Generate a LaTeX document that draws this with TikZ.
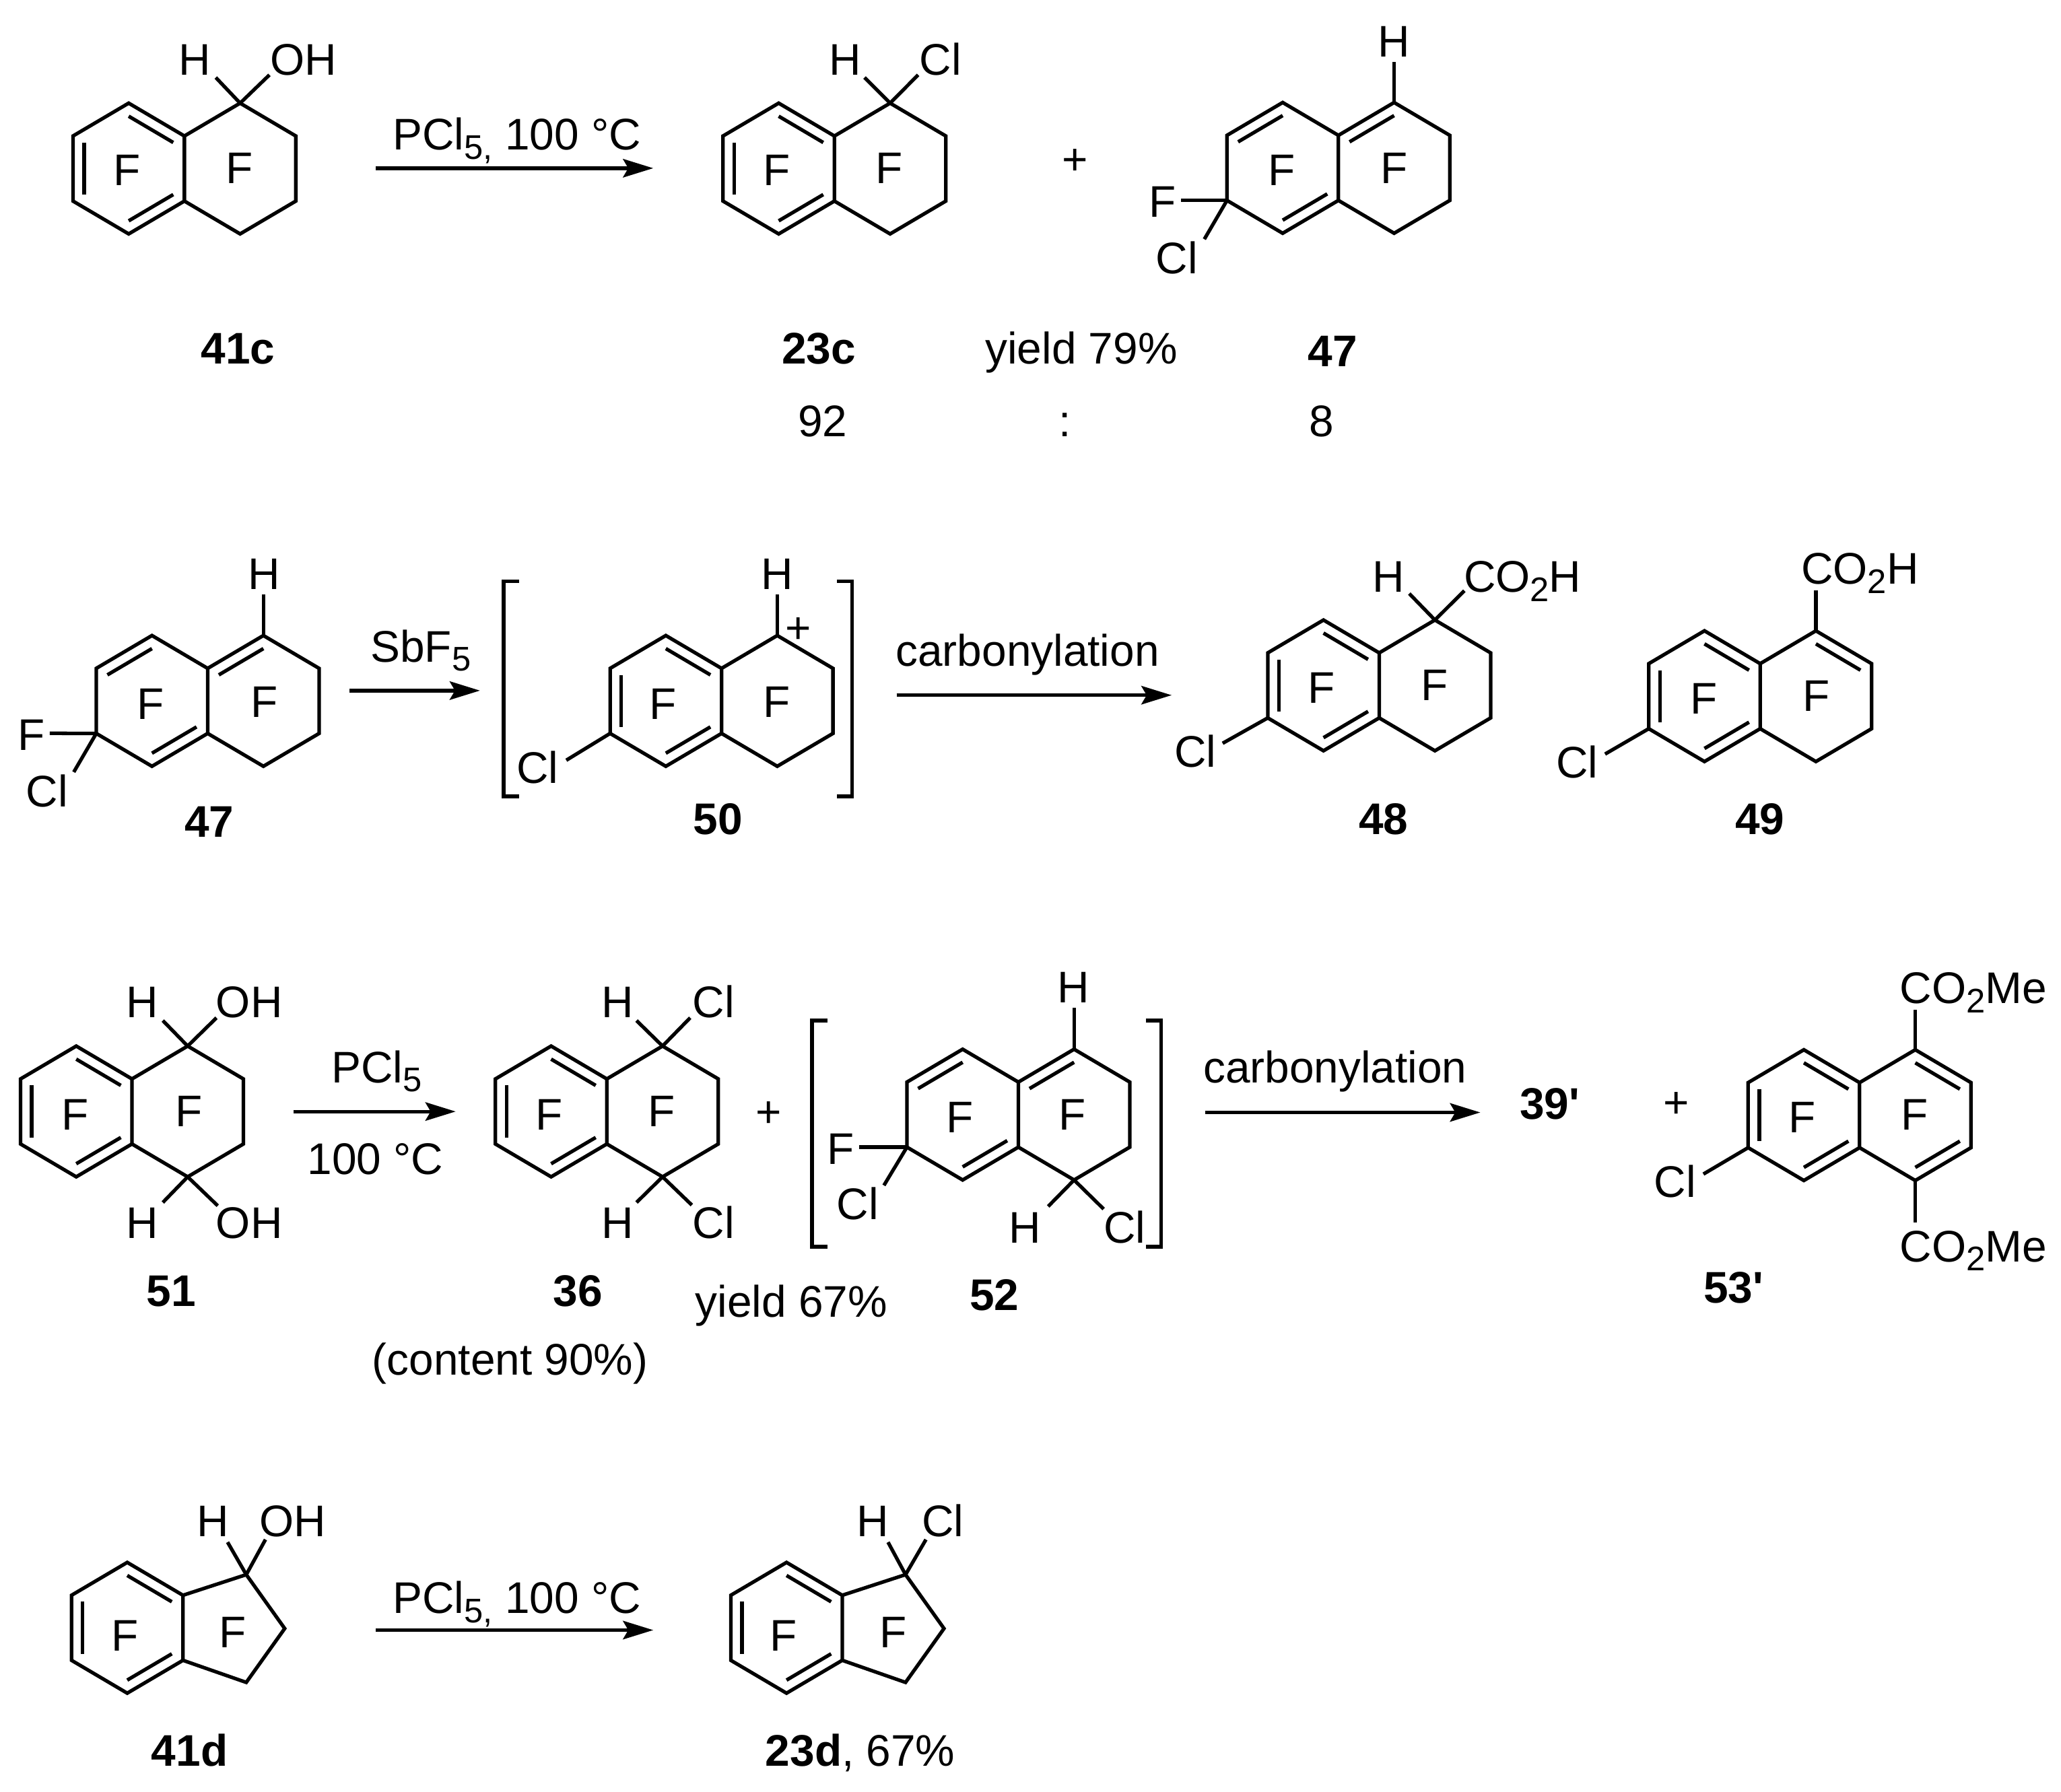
\documentclass[tikz,border=0pt]{standalone}
\usepackage{fontspec}
\usetikzlibrary{calc,arrows.meta}
\newfontfamily\af{Liberation Sans}
\newcommand{\subsc}[1]{\raisebox{-3.5pt}{\fontsize{13}{15}\selectfont #1}}
\tikzset{
  txt/.style={inner sep=0pt,text height=12.1pt,text depth=0pt,font=\af\fontsize{16.85}{20}\selectfont},
  cpd/.style={txt,font=\af\fontsize{16.85}{20}\selectfont\bfseries},
  bondline/.style={line width=1.35pt,line join=miter,line cap=butt,black},
  brk/.style={line width=1.4pt,line join=miter,black},
  rxn/.style={line width=1.35pt,black,-{Stealth[length=11.5pt,width=7pt,inset=2pt]}},
  lz/.style={x=0.4975pt},
  rz/.style={x=0.4975pt,xshift=1.92pt}
}
% ring skeletons: prefix, x of ring fusion, y of top apex
\newcommand{\ncoords}[3]{%
  \coordinate (#1LU) at (#2-85.2,#3+25);
  \coordinate (#1LL) at (#2-85.2,#3+74.5);
  \coordinate (#1A1) at (#2-42.6,#3);
  \coordinate (#1B1) at (#2-42.6,#3+99.5);
  \coordinate (#1JU) at (#2,#3+25);
  \coordinate (#1JL) at (#2,#3+74.5);
  \coordinate (#1A2) at (#2+42.6,#3);
  \coordinate (#1B2) at (#2+42.6,#3+99.5);
  \coordinate (#1RU) at (#2+85.2,#3+25);
  \coordinate (#1RL) at (#2+85.2,#3+74.5);
  \coordinate (#1C1) at (#2-42.6,#3+49.75);
  \coordinate (#1C2) at (#2+42.6,#3+49.75);}
\newcommand{\nap}[3]{\ncoords{#1}{#2}{#3}%
  \draw[bondline] (#1LU)--(#1A1)--(#1JU)--(#1A2)--(#1RU)--(#1RL)--(#1B2)--(#1JL)--(#1B1)--(#1LL)--cycle (#1JU)--(#1JL);}
\newcommand{\ind}[3]{\ncoords{#1}{#2}{#3}%
  \coordinate (#1T) at (#2+48.4,#3+9.3);
  \coordinate (#1M) at (#2+77.8,#3+50.3);
  \coordinate (#1D) at (#2+48.4,#3+91.3);
  \draw[bondline] (#1LU)--(#1A1)--(#1JU)--(#1T)--(#1M)--(#1D)--(#1JL)--(#1B1)--(#1LL)--cycle (#1JU)--(#1JL);}
\newcommand{\dbl}[4]{\draw[bondline] ($(#1#2)!0.2!(#1#4)$)--($(#1#3)!0.2!(#1#4)$);}
% bond from a ring atom to a named free end
\newcommand{\bd}[3]{\coordinate (#2) at (#3); \draw[bondline] (#1)--(#2);}
\newcommand{\rf}[3]{\node[txt] (#1) at (#2) {#3};}
\begin{document}
\begin{tikzpicture}[x=0.5pt,y=-0.5pt]
\useasboundingbox (0,0) rectangle (1568,1363.6);
\fill[white] (0,0) rectangle (1568,1363.6);

% ---------- row 1
\begin{scope}[lz]
\nap{a}{141}{78.5}
\dbl{a}{A1}{JU}{C1}\dbl{a}{LU}{LL}{C1}\dbl{a}{JL}{B1}{C1}
\bd{aA2}{aeH}{165,59}\bd{aA2}{aeO}{206,57}
\rf{aH}{149,45}{H}\rf{aO}{232,45}{OH}
\rf{aF1}{97,129}{F}\rf{aF2}{183,127.5}{F}
\node[cpd] (l41c) at (182,264.6) {41c};

\coordinate (r1s) at (287.4,128);\coordinate (r1e) at (499.5,128);
\draw[rxn] (r1s)--(r1e);
\node[txt,anchor=west] (r1t) at (300,102) {PCl\subsc{5,} 100 °C};

\nap{b}{638}{78.5}
\dbl{b}{A1}{JU}{C1}\dbl{b}{LU}{LL}{C1}\dbl{b}{JL}{B1}{C1}
\bd{bA2}{beH}{661,59}\bd{bA2}{beC}{702,57}
\rf{bH}{646,45}{H}\rf{bC}{719,45}{Cl}
\rf{bF1}{594,129}{F}\rf{bF2}{680,127.5}{F}
\node[cpd] (l23c) at (626,264.6) {23c};
\rf{n92}{629,320}{92}
\end{scope}

\begin{scope}[rz]
\rf{plusa}{818,120.6}{+}
\rf{y79}{823,265}{yield 79\%}
\rf{colon}{810.5,320}{:}
\nap{c}{1019.5}{78}
\dbl{c}{LU}{A1}{C1}\dbl{c}{JL}{B1}{C1}\dbl{c}{JU}{A2}{C2}
\bd{cA2}{ceH}{1062.1,47}
\bd{cLL}{ceF}{899,152.5}\bd{cLL}{ceC}{917,182}
\rf{cH}{1062,31}{H}\rf{cFs}{885,153}{F}\rf{cC}{896,196}{Cl}
\rf{cF1}{976,129}{F}\rf{cF2}{1062,127.5}{F}
\node[cpd] (l47a) at (1015,267) {47};
\rf{n8}{1006.7,320}{8}
\end{scope}

% ---------- row 2
\begin{scope}[lz]
\nap{d}{158.8}{483.6}
\dbl{d}{LU}{A1}{C1}\dbl{d}{JL}{B1}{C1}\dbl{d}{JU}{A2}{C2}
\bd{dA2}{deH}{201.4,452.5}
\bd{dLL}{deF}{38,558}\bd{dLL}{deC}{56.4,587.5}
\rf{dH}{201.8,436.3}{H}\rf{dFs}{24,559}{F}\rf{dC}{36,602}{Cl}
\rf{dF1}{115,535.3}{F}\rf{dF2}{202,533.5}{F}
\node[cpd] (l47b) at (160,625) {47};

\coordinate (r2s) at (267.4,525.5);\coordinate (r2e) at (367,525.5);
\draw[rxn] (r2s)--(r2e);
\node[txt,anchor=west] (r2t) at (283,491.5) {SbF\subsc{5}};

\draw[brk] (397,442.3)--(385,442.3)--(385,606)--(397,606);
\draw[brk] (640,442.3)--(651.6,442.3)--(651.6,606)--(640,606);
\nap{e}{551.7}{483.6}
\dbl{e}{A1}{JU}{C1}\dbl{e}{LU}{LL}{C1}\dbl{e}{JL}{B1}{C1}
\bd{eA2}{eeH}{594.3,452.5}\bd{eLL}{eeC}{433,578.5}
\rf{eH}{594,436.5}{H}\rf{ePl}{610.6,477.4}{+}\rf{eC}{411,584}{Cl}
\rf{eF1}{507,535.3}{F}\rf{eF2}{594,533.5}{F}
\node[cpd] (l50) at (549,623) {50};

\coordinate (r3s) at (685.5,529);
\rf{r3t}{785.7,495}{carbonylation}
\end{scope}

\begin{scope}[rz]
\coordinate (r3e) at (892,529);
\draw[rxn] (r3s)--(r3e);
\nap{f}{1050.7}{471.8}
\dbl{f}{A1}{JU}{C1}\dbl{f}{LU}{LL}{C1}\dbl{f}{JL}{B1}{C1}
\bd{fA2}{feH}{1073.7,451.7}\bd{fA2}{feC}{1115.8,449.5}\bd{fLL}{feL}{931,565.6}
\rf{fH}{1058,438.5}{H}
\node[txt,anchor=west] (fC) at (1115,438.5) {CO\subsc{2}H};
\rf{fL}{910,571.7}{Cl}
\rf{fF1}{1006.7,523}{F}\rf{fF2}{1092.8,521}{F}
\node[cpd] (l48) at (1054,623) {48};

\nap{g}{1342}{480}
\dbl{g}{A1}{JU}{C1}\dbl{g}{LU}{LL}{C1}\dbl{g}{JL}{B1}{C1}\dbl{g}{A2}{RU}{C2}
\bd{gA2}{geC}{1384.6,449}\bd{gLL}{geL}{1223.4,573.8}
\node[txt,anchor=west] (gC) at (1373,432.5) {CO\subsc{2}H};
\rf{gL}{1202,580}{Cl}
\rf{gF1}{1298.7,531}{F}\rf{gF2}{1384.7,529}{F}
\node[cpd] (l49) at (1341.7,623) {49};
\end{scope}

% ---------- row 3
\begin{scope}[lz]
\nap{h}{100.9}{796}
\dbl{h}{A1}{JU}{C1}\dbl{h}{LU}{LL}{C1}\dbl{h}{JL}{B1}{C1}
\bd{hA2}{heH}{124.5,776.6}\bd{hA2}{heO}{165.5,774.5}
\bd{hB2}{heH2}{124.5,915}\bd{hB2}{heO2}{166.5,917.5}
\rf{hH}{109,762}{H}\rf{hO}{190.6,762}{OH}
\rf{hH2}{109,930}{H}\rf{hO2}{190.6,930}{OH}
\rf{hF1}{57.4,847.5}{F}\rf{hF2}{144.5,845}{F}
\node[cpd] (l51) at (131,982) {51};

\coordinate (r4s) at (224.4,845.8);\coordinate (r4e) at (348.4,845.8);
\draw[rxn] (r4s)--(r4e);
\node[txt,anchor=west] (r4t) at (253,811.7) {PCl\subsc{5}};
\rf{r4u}{287,881.7}{100 °C}

\nap{i}{464}{796}
\dbl{i}{A1}{JU}{C1}\dbl{i}{LU}{LL}{C1}\dbl{i}{JL}{B1}{C1}
\bd{iA2}{ieH}{486.7,776.6}\bd{iA2}{ieC}{527.7,774.5}
\bd{iB2}{ieH2}{486.7,915}\bd{iB2}{ieC2}{529,917}
\rf{iH}{472,762}{H}\rf{iC}{545.6,762}{Cl}
\rf{iH2}{472,930}{H}\rf{iC2}{545.6,930}{Cl}
\rf{iF1}{420,847.5}{F}\rf{iF2}{506,845}{F}
\node[cpd] (l36) at (442,982) {36};
\rf{cont}{390,1034}{(content 90\%)}
\rf{y67}{605,990}{yield 67\%}
\rf{plusb}{587.6,845.5}{+}
\end{scope}

\begin{scope}[rz]
\draw[brk] (628.8,776.6)--(617.1,776.6)--(617.1,948.8)--(628.8,948.8);
\draw[brk] (872.4,776.6)--(884,776.6)--(884,948.8)--(872.4,948.8);
\nap{j}{774.8}{798.4}
\dbl{j}{LU}{A1}{C1}\dbl{j}{JL}{B1}{C1}\dbl{j}{JU}{A2}{C2}
\bd{jA2}{jeH}{817.4,767}
\bd{jLL}{jeF}{653,872.9}\bd{jLL}{jeC}{672,902}
\bd{jB2}{jeH2}{797.6,918}\bd{jB2}{jeC2}{840,920}
\rf{jH}{817,751}{H}\rf{jFs}{639.1,874}{F}\rf{jC}{651.8,916}{Cl}
\rf{jH2}{780,934}{H}\rf{jC2}{856,934}{Cl}
\rf{jF1}{730,850}{F}\rf{jF2}{816,847.5}{F}
\node[cpd] (l52) at (756.5,985) {52};

\coordinate (r5s) at (917.5,846.5);\coordinate (r5e) at (1128,846.5);
\draw[rxn] (r5s)--(r5e);
\rf{r5t}{1017,812}{carbonylation}
\node[cpd] (l39) at (1181,839.6) {39'};
\rf{plusc}{1278,838.4}{+}

\nap{k}{1418}{798.8}
\dbl{k}{A1}{JU}{C1}\dbl{k}{LU}{LL}{C1}\dbl{k}{JL}{B1}{C1}\dbl{k}{A2}{RU}{C2}\dbl{k}{RL}{B2}{C2}
\bd{kA2}{keT}{1460.6,768.6}\bd{kB2}{keB}{1460.6,930}\bd{kLL}{keL}{1298.6,893.4}
\node[txt,anchor=west] (kT) at (1448.5,751.6) {CO\subsc{2}Me};
\node[txt,anchor=west] (kB) at (1448.5,948) {CO\subsc{2}Me};
\rf{kL}{1277,899}{Cl}
\rf{kF1}{1374,850}{F}\rf{kF2}{1460,847.5}{F}
\node[cpd] (l53) at (1321.7,979.5) {53'};
\end{scope}

% ---------- row 4
\begin{scope}[lz,yshift=-0.75pt]
\ind{m}{139.9}{1187.4}
\dbl{m}{A1}{JU}{C1}\dbl{m}{LU}{LL}{C1}\dbl{m}{JL}{B1}{C1}
\bd{mT}{meH}{174,1172}\bd{mT}{meO}{203,1170}
\rf{mH}{163,1155.8}{H}\rf{mO}{224,1155.8}{OH}
\rf{mF1}{95.8,1242.5}{F}\rf{mF2}{178,1240}{F}
\node[cpd] (l41d) at (145,1330.5) {41d};

\coordinate (r6s) at (287.4,1238.9);\coordinate (r6e) at (499.5,1238.9);
\draw[rxn] (r6s)--(r6e);
\node[txt,anchor=west] (r6t) at (300,1214) {PCl\subsc{5,} 100 °C};

\ind{n}{644}{1187.4}
\dbl{n}{A1}{JU}{C1}\dbl{n}{LU}{LL}{C1}\dbl{n}{JL}{B1}{C1}
\bd{nT}{neH}{679,1172}\bd{nT}{neC}{708,1170}
\rf{nH}{667.5,1155.8}{H}\rf{nC}{720.8,1155.8}{Cl}
\rf{nF1}{599,1242.5}{F}\rf{nF2}{683,1240}{F}
\node[txt] (l23d) at (657.8,1330.5) {\bfseries 23d\mdseries, 67\%};
\end{scope}
\end{tikzpicture}
\end{document}
